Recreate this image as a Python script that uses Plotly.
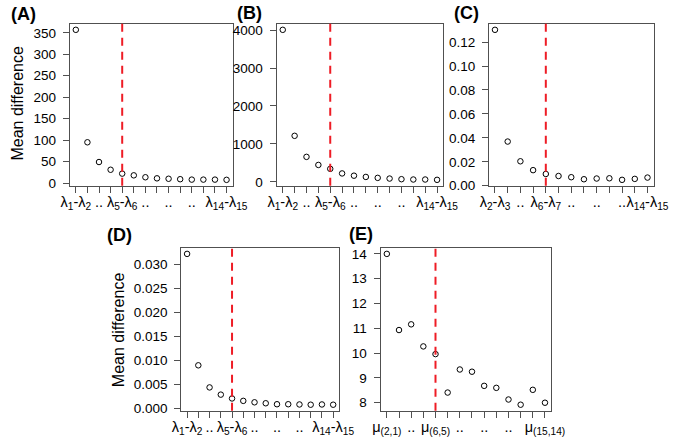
import plotly.graph_objects as go

# ---------------- data ----------------
vals_A = [357, 95, 49, 31, 22, 18, 13.5, 11, 10, 9, 8, 8, 8, 7.5]
vals_B = [4010, 1213, 657, 444, 341, 220, 161, 128, 103, 85, 68, 60, 60, 51]
vals_C = [0.1303, 0.0369, 0.0204, 0.0130, 0.0098, 0.0081, 0.0071, 0.0054,
          0.0060, 0.0062, 0.0049, 0.0057, 0.0068]
vals_D = [0.0322, 0.0090, 0.0044, 0.0029, 0.0021, 0.0016, 0.0013, 0.0011,
          0.0009, 0.0009, 0.00085, 0.0008, 0.00085, 0.0008]
vals_E = [14.0, 10.93, 11.16, 10.27, 9.96, 8.41, 9.34, 9.25, 8.68, 8.60,
          8.13, 7.92, 8.52, 8.0]

lam = lambda a, b: f"λ<sub>{a}</sub>-λ<sub>{b}</sub>"
# (tick position, label)
labels_A = [(1, lam(1, 2)), (3, ".."), (5, lam(5, 6)), (7, ".."), (9, ".."), (11, ".."), (14, lam(14, 15))]
labels_B = labels_A
labels_C = [(1, lam(2, 3)), (3, ".."), (5, lam(6, 7)), (7, ".."), (9, ".."), (11, ".."), (13, lam(14, 15))]
labels_D = labels_A
labels_E = [(1, "μ<sub>(2,1)</sub>"), (3, ".."), (5, "μ<sub>(6,5)</sub>"), (7, ".."), (9, ".."),
            (11, ".."), (14, "μ<sub>(15,14)</sub>")]

ytick_A = [0, 50, 100, 150, 200, 250, 300, 350]
ytick_B = [0, 1000, 2000, 3000, 4000]
ytick_C = [0.00, 0.02, 0.04, 0.06, 0.08, 0.10, 0.12]
ytick_D = [0.000, 0.005, 0.010, 0.015, 0.020, 0.025, 0.030]
ytick_E = [8, 9, 10, 11, 12, 13, 14]

cutoffs = [5, 5, 5, 5, 5]
panel_names = ["(A)", "(B)", "(C)", "(D)", "(E)"]

# ---------------- layout (pixels) ----------------
W, H = 685, 440
boxes = [  # x0, x1, ytop, ybottom
    (63, 231.7, 23.3, 188.7),
    (277.3, 450, 23.3, 188.7),
    (497.3, 668, 23.3, 188.7),
    (178.5, 342, 252, 418.3),
    (385, 562, 252, 418.3),
]
title_pos = [(0, 13), (234, 12), (459, 12), (100, 239), (350, 238)]
ylabel_pos = [(9, 104), (113, 336)]

series = [vals_A, vals_B, vals_C, vals_D, vals_E]
xlabels = [labels_A, labels_B, labels_C, labels_D, labels_E]
yticks = [ytick_A, ytick_B, ytick_C, ytick_D, ytick_E]
yfmt = [None, None, ".2f", ".3f", None]

FONT = "Liberation Sans, Arial, sans-serif"
AXC = "#505050"
fig = go.Figure()
layout = dict(
    width=W, height=H, margin=dict(l=0, r=0, t=0, b=0),
    plot_bgcolor="white", paper_bgcolor="white",
    font=dict(family=FONT, color="black", size=13.5),
    showlegend=False, shapes=[], annotations=[],
)

axcommon = dict(showgrid=False, zeroline=False, showline=True, mirror=True,
                linecolor=AXC, linewidth=1, ticks="outside", ticklen=6,
                tickcolor=AXC, tickwidth=1,
                tickfont=dict(family=FONT, size=13.5, color="black"))

for i, vals in enumerate(series):
    n = len(vals)
    xs = list(range(1, n + 1))
    sfx = "" if i == 0 else str(i + 1)
    fig.add_trace(go.Scatter(
        x=xs, y=vals, mode="markers", xaxis="x" + sfx, yaxis="y" + sfx,
        marker=dict(symbol="circle-open", size=5.5, color="black",
                    line=dict(width=1, color="black")),
        hoverinfo="skip"))
    x0, x1, yt, yb = boxes[i]
    ext = (n - 1) * 0.04
    ymin, ymax = min(vals), max(vals)
    yext = (ymax - ymin) * 0.04
    xa = dict(axcommon, domain=[x0 / W, x1 / W], range=[1 - ext, n + ext],
              tickvals=[p for p, _ in xlabels[i]], ticktext=[t for _, t in xlabels[i]],
              anchor="y" + sfx, tickangle=0, ticklabelstandoff=-3,
              tickfont=dict(family=FONT, size=14.5, color="black"),
              minor=dict(tick0=1, dtick=1, ticks="outside", ticklen=6,
                         tickcolor=AXC, tickwidth=1, showgrid=False))
    ya = dict(axcommon, domain=[1 - yb / H, 1 - yt / H],
              range=[ymin - yext, ymax + yext], tickvals=yticks[i],
              anchor="x" + sfx, ticklabelstandoff=4)
    if yfmt[i]:
        ya["tickformat"] = yfmt[i]
    layout["xaxis" + sfx] = xa
    layout["yaxis" + sfx] = ya
    layout["shapes"].append(dict(
        type="line", xref="x" + sfx, yref="y" + sfx + " domain",
        x0=cutoffs[i], x1=cutoffs[i], y0=0, y1=1,
        line=dict(color="#ee1c25", width=2, dash="8px,6px")))
    tx, ty = title_pos[i]
    layout["annotations"].append(dict(
        text="<b>" + panel_names[i] + "</b>", xref="paper", yref="paper",
        x=tx / W, y=1 - ty / H, xanchor="left", yanchor="middle",
        showarrow=False, font=dict(family=FONT, size=18, color="black")))

for (lx, ly) in ylabel_pos:
    layout["annotations"].append(dict(
        text="Mean difference", xref="paper", yref="paper",
        x=lx / W, y=1 - ly / H, xanchor="center", yanchor="middle",
        textangle=-90, showarrow=False,
        font=dict(family=FONT, size=16, color="black")))

fig.update_layout(**layout)
fig.write_html("out.html", config={"displayModeBar": False},
               post_script="document.body.style.margin='0';document.body.style.padding='0';")
